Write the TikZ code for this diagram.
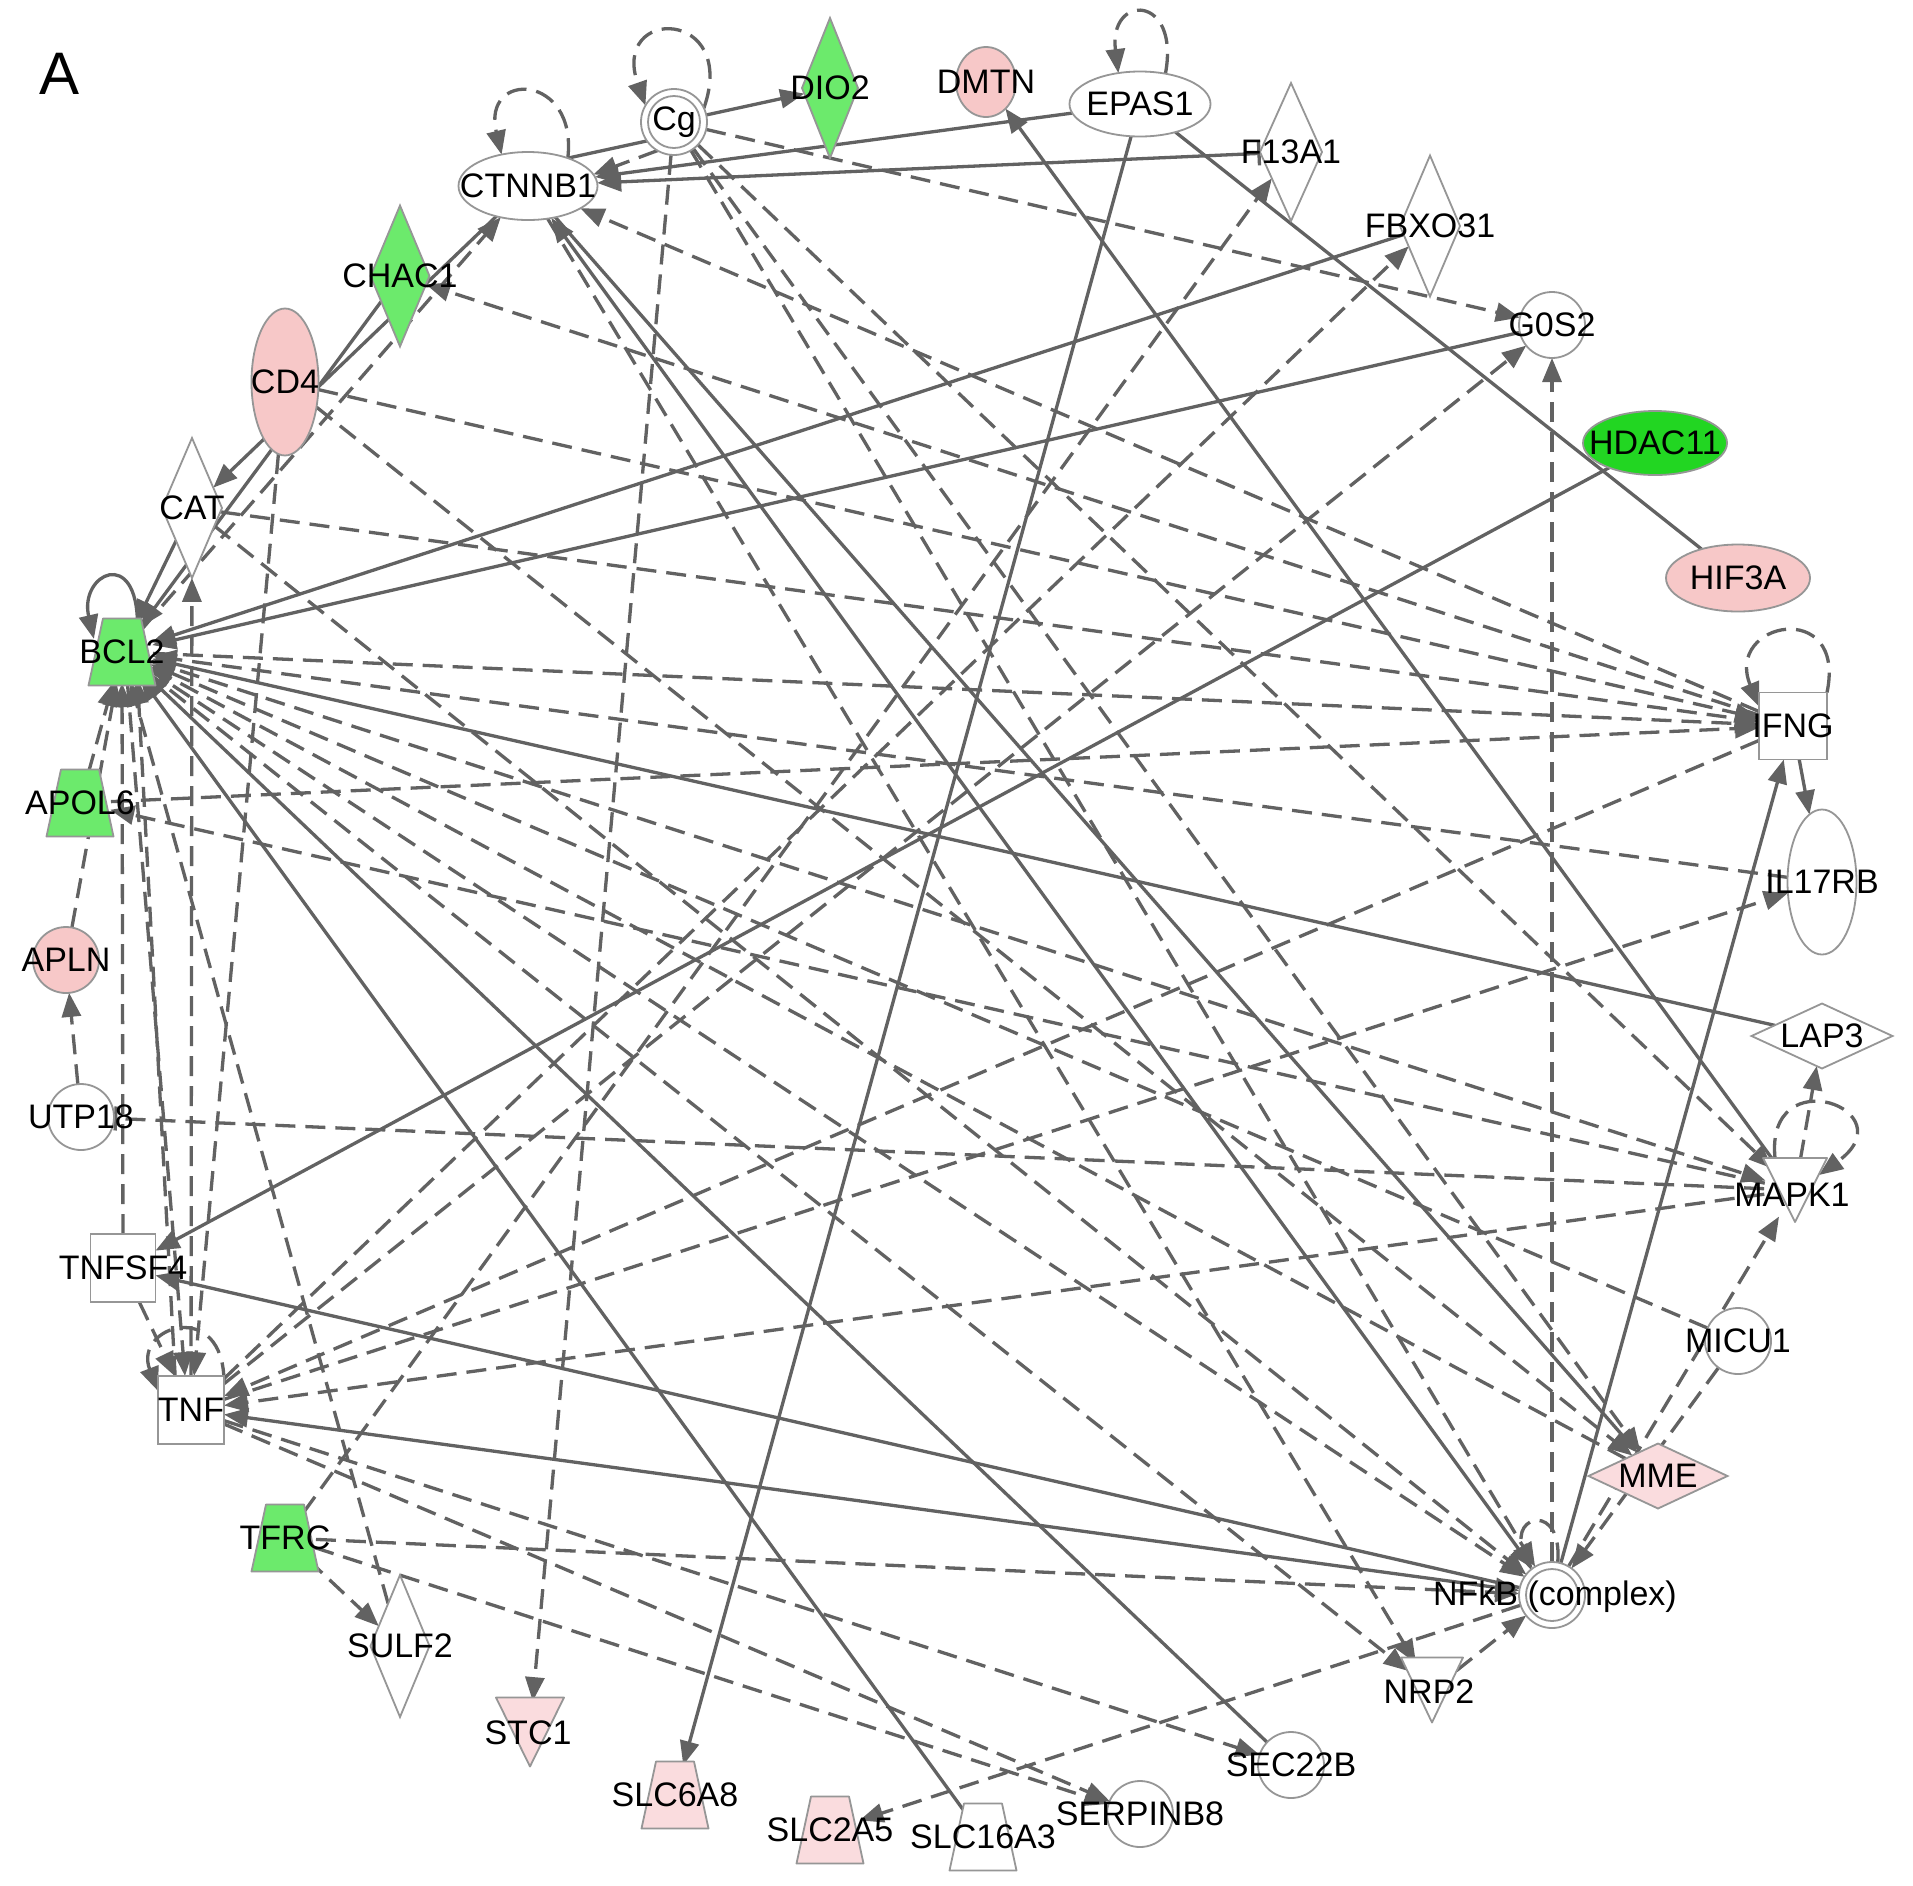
\documentclass[tikz,border=0pt]{standalone}
\usepackage{fontspec}
\setmainfont{Liberation Sans}
\usetikzlibrary{shapes.geometric,arrows.meta,calc}
\pgfdeclarelayer{bg}
\pgfsetlayers{bg,main}
\definecolor{edgec}{RGB}{98,98,98}
\definecolor{nodeb}{RGB}{150,150,150}
\definecolor{gr}{RGB}{108,234,108}
\definecolor{grd}{RGB}{34,214,34}
\definecolor{pk}{RGB}{247,200,200}
\definecolor{pkl}{RGB}{250,220,222}
\tikzset{
  gnode/.style={draw=nodeb, line width=0.9pt, fill=white, inner sep=0pt, outer sep=0pt},
  ell/.style={gnode, ellipse},
  circ/.style={gnode, circle, minimum size=33pt},
  dia/.style={gnode, diamond},
  box/.style={gnode, rectangle},
  proxy/.style={circle, minimum size=31pt, inner sep=0pt, outer sep=0pt},
  tri/.style={draw=nodeb, line width=0.9pt, line join=round},
  lbl/.style={font=\fontsize{17}{20}\selectfont, text=black, inner sep=0pt},
  edge/.style={draw=edgec, line width=1.65pt},
  sa/.style={edge, -{Triangle[length=12pt,width=9.5pt]}},
  sab/.style={edge, {Triangle[length=12pt,width=9.5pt]}-{Triangle[length=12pt,width=9.5pt]}},
  sl/.style={edge},
  ib/.style={edge, {Triangle[length=12pt,width=9.5pt]}-{Bar[width=12pt]}},
  da/.style={edge, dash pattern=on 10pt off 5pt, -{Triangle[length=12pt,width=9.5pt]}},
  dl/.style={edge, dash pattern=on 10pt off 5pt},
  dbar/.style={edge, dash pattern=on 10pt off 5pt, -{Bar[width=12pt]}},
}
\newcommand{\mytrap}[2]{\filldraw[tri, fill=#2] ($(#1)+(-19,-33.5)$) -- ($(#1)+(19,-33.5)$) -- ($(#1)+(33.5,33.5)$) -- ($(#1)+(-33.5,33.5)$) -- cycle;}
\newcommand{\mytri}[4]{\filldraw[tri, fill=#4] ($(#1)+(-#2,-#3)$) -- ($(#1)+(#2,-#3)$) -- ($(#1)+(0,#3)$) -- cycle;}
\begin{document}
\begin{tikzpicture}[x=0.5pt,y=-0.5pt]
\useasboundingbox (0,0) rectangle (1913,1886);
\begin{pgfonlayer}{bg}
\fill[white] (0,0) rectangle (1913,1886);
\end{pgfonlayer}
\node[font=\fontsize{30}{36}\selectfont] (lblA) at (60,74) {A};

% ---------------- nodes ----------------
\node[circ] (Cg) at (674,122) {};
\draw[nodeb, line width=0.9pt] (Cg) circle[radius=13pt];
\node[dia, fill=gr, minimum width=28pt, minimum height=70pt] (DIO2) at (830,88) {};
\node[ell, fill=pk, minimum width=30pt, minimum height=35pt] (DMTN) at (986,82) {};
\node[ell, minimum width=70.5pt, minimum height=32.5pt] (EPAS1) at (1140,104) {};
\node[dia, minimum width=31pt, minimum height=69pt] (F13A1) at (1291,152) {};
\node[dia, minimum width=30pt, minimum height=70.5pt] (FBXO31) at (1430,226) {};
\node[circ] (G0S2) at (1552,325) {};
\node[ell, fill=grd, minimum width=72pt, minimum height=32pt] (HDAC11) at (1655,443) {};
\node[ell, fill=pk, minimum width=72pt, minimum height=33.5pt] (HIF3A) at (1738,578) {};
\node[box, minimum width=34pt, minimum height=33.5pt] (IFNG) at (1793,726) {};
\node[ell, minimum width=34.5pt, minimum height=72.5pt] (IL17RB) at (1822,882) {};
\node[dia, minimum width=70.5pt, minimum height=32.5pt] (LAP3) at (1822,1036) {};
\node[proxy] (MAPK1) at (1795,1190) {};
\mytri{MAPK1}{32}{32}{white}
\node[circ] (MICU1) at (1738,1341) {};
\node[dia, fill=pkl, minimum width=69.5pt, minimum height=32.5pt] (MME) at (1658,1476) {};
\node[circ] (NFkB) at (1552,1595) {};
\draw[nodeb, line width=0.9pt] (NFkB) circle[radius=13pt];
\node[proxy] (NRP2) at (1432,1690) {};
\mytri{NRP2}{31}{32.5}{white}
\node[circ] (SEC22B) at (1291,1765) {};
\node[circ] (SERPINB8) at (1140,1814) {};
\node[proxy] (SLC16A3) at (983,1837) {};
\mytrap{SLC16A3}{white}
\node[proxy] (SLC2A5) at (830,1830) {};
\mytrap{SLC2A5}{pkl}
\node[proxy] (SLC6A8) at (675,1795) {};
\mytrap{SLC6A8}{pkl}
\node[proxy] (STC1) at (530,1732) {};
\mytri{STC1}{34}{34.5}{pkl}
\node[dia, minimum width=29.5pt, minimum height=71pt] (SULF2) at (400,1646) {};
\node[proxy] (TFRC) at (285,1538) {};
\mytrap{TFRC}{gr}
\node[box, minimum width=33pt, minimum height=34pt] (TNF) at (191,1410) {};
\node[box, minimum width=32.5pt, minimum height=34pt] (TNFSF4) at (123,1268) {};
\node[circ] (UTP18) at (81,1117) {};
\node[circ, fill=pk] (APLN) at (66,960) {};
\node[proxy] (APOL6) at (80,803) {};
\mytrap{APOL6}{gr}
\node[proxy] (BCL2) at (122,652) {};
\mytrap{BCL2}{gr}
\node[dia, minimum width=30pt, minimum height=70pt] (CAT) at (192,508) {};
\node[ell, fill=pk, minimum width=33.5pt, minimum height=73.5pt] (CD4) at (285,382) {};
\node[dia, fill=gr, minimum width=29.5pt, minimum height=70.5pt] (CHAC1) at (400,276) {};
\node[ell, minimum width=69.5pt, minimum height=34pt] (CTNNB1) at (528,186) {};

% ---------------- edges ----------------
\begin{pgfonlayer}{bg}
% self loops
\draw[da] (Cg.25) .. controls +(35,-100) and +(-35,-100) .. (Cg.150);
\draw[da] (CTNNB1.35) .. controls +(10,-85) and +(-20,-85) .. (CTNNB1.130);
\draw[da] (EPAS1.50) .. controls +(15,-80) and +(-10,-80) .. (EPAS1.125);
\draw[da] (IFNG.north east) .. controls +(20,-95) and +(-35,-85) .. (IFNG.150);
\draw[da] (1775,1158) .. controls +(-10,-100) and +(90,-65) .. (1819,1175);
\draw[da] (TNF.40) .. controls +(0,-85) and +(-25,-65) .. (TNF.150);
\draw[da] (NFkB.80) .. controls +(5,-60) and +(-20,-55) .. (NFkB.130);
\draw[sa] (BCL2.60) .. controls +(0,-80) and +(-15,-65) .. (BCL2.155);
% top
\draw[sa] (Cg) -- (DIO2);
\draw[sl] (Cg.215) -- (CTNNB1.35);
\draw[da] (Cg.240) -- (CTNNB1.10);
\draw[sa] (EPAS1) -- (CTNNB1);
\draw[ib] (CTNNB1) -- (F13A1);
\draw[sl] (EPAS1) -- (HIF3A);
\draw[sa] (EPAS1) -- (SLC6A8);
\draw[sa] (MAPK1) -- (DMTN);
\draw[da] (Cg) -- (G0S2);
\draw[da] (Cg) -- (STC1);
\draw[da] (Cg) -- (MAPK1);
\draw[da] (Cg) -- (MME);
\draw[da] (Cg) -- (NFkB);
\draw[da] (CTNNB1) -- (NRP2);
\draw[da] (IFNG) -- (CTNNB1);
\draw[da] (IFNG) -- (CHAC1);
\draw[da] (BCL2) -- (CTNNB1);
\draw[sa] (CTNNB1) -- (CAT);
\draw[sa] (CHAC1) -- (BCL2);
\draw[sa] (CTNNB1) -- (MME);
\draw[sab] (CTNNB1) -- (NFkB);
% BCL2
\draw[sa] (FBXO31) -- (BCL2);
\draw[sa] (G0S2) -- (BCL2);
\draw[sa] (LAP3) -- (BCL2);
\draw[da] (BCL2) -- (NFkB);
\draw[da] (BCL2) -- (NRP2);
\draw[sa] (SEC22B) -- (BCL2);
\draw[sa] (SLC16A3) -- (BCL2);
\draw[sa] (CAT) -- (BCL2);
\draw[da] (BCL2) -- (IFNG);
\draw[da] (IL17RB) -- (BCL2);
\draw[da] (BCL2) -- (MAPK1);
\draw[da] (MAPK1) -- (APOL6);
\draw[da] (MICU1) -- (BCL2);
\draw[da] (MME) -- (BCL2);
\draw[da] (BCL2.-80) -- (TNF.100);
\draw[da] (TNF.115) -- (BCL2.-60);
\draw[da] (TNFSF4) -- (BCL2);
\draw[da] (APOL6) -- (BCL2);
\draw[da] (APLN) -- (BCL2);
\draw[da] (SULF2) -- (BCL2);
% CAT, CD4, APOL6, UTP18
\draw[da] (CAT) -- (IFNG);
\draw[da] (CAT) -- (NFkB);
\draw[da] (TNF) -- (CAT);
\draw[da] (CD4) -- (IFNG);
\draw[da] (CD4) -- (MME);
\draw[da] (CD4) -- (TNF);
\draw[da] (APOL6) -- (IFNG);
\draw[da] (UTP18) -- (APLN);
\draw[dbar] (MAPK1) -- (UTP18);
% TNFSF4, TNF
\draw[sa] (NFkB) -- (TNFSF4);
\draw[sa] (HDAC11) -- (TNFSF4);
\draw[da] (TNFSF4) -- (TNF);
\draw[sab] (NFkB) -- (TNF);
\draw[da] (IFNG) -- (TNF);
\draw[da] (MAPK1) -- (TNF);
\draw[da] (TNF) -- (IL17RB);
\draw[da] (TNF) -- (FBXO31);
\draw[da] (TNF) -- (G0S2);
\draw[da] (TNF) -- (SEC22B);
\draw[da] (TNF) -- (SERPINB8);
% TFRC
\draw[da] (TFRC) -- (SULF2);
\draw[da] (TFRC) -- (NFkB);
\draw[da] (TFRC) -- (SERPINB8);
\draw[da] (TFRC) -- (F13A1);
% NFkB and right side
\draw[sa] (NFkB) -- (IFNG);
\draw[da] (NFkB) -- (G0S2);
\draw[da] (NFkB.60) -- (MAPK1);
\draw[da] (MICU1) -- (NFkB);
\draw[da] (NRP2) -- (NFkB);
\draw[da] (NFkB) -- (SLC2A5);
\draw[sa] (IFNG) -- (IL17RB);
\draw[da] (MAPK1) -- (LAP3);
\end{pgfonlayer}

% ---------------- labels ----------------
\node[lbl] at (Cg) {Cg};
\node[lbl] at (DIO2) {DIO2};
\node[lbl] at (DMTN) {DMTN};
\node[lbl] at (EPAS1) {EPAS1};
\node[lbl] at (F13A1) {F13A1};
\node[lbl] at (FBXO31) {FBXO31};
\node[lbl] at (G0S2) {G0S2};
\node[lbl] at (HDAC11) {HDAC11};
\node[lbl] at (HIF3A) {HIF3A};
\node[lbl] at (IFNG) {IFNG};
\node[lbl] at (IL17RB) {IL17RB};
\node[lbl] at (LAP3) {LAP3};
\node[lbl] at (1792,1195) {MAPK1};
\node[lbl] at (MICU1) {MICU1};
\node[lbl] at (MME) {MME};
\node[lbl] at (1555,1597) {NFkB (complex)};
\node[lbl] at (1429,1692) {NRP2};
\node[lbl] at (SEC22B) {SEC22B};
\node[lbl] at (SERPINB8) {SERPINB8};
\node[lbl] at (SLC16A3) {SLC16A3};
\node[lbl] at (SLC2A5) {SLC2A5};
\node[lbl] at (SLC6A8) {SLC6A8};
\node[lbl] at (528,1733) {STC1};
\node[lbl] at (SULF2) {SULF2};
\node[lbl] at (TFRC) {TFRC};
\node[lbl] at (TNF) {TNF};
\node[lbl] at (TNFSF4) {TNFSF4};
\node[lbl] at (UTP18) {UTP18};
\node[lbl] at (APLN) {APLN};
\node[lbl] at (APOL6) {APOL6};
\node[lbl] at (BCL2) {BCL2};
\node[lbl] at (CAT) {CAT};
\node[lbl] at (CD4) {CD4};
\node[lbl] at (CHAC1) {CHAC1};
\node[lbl] at (CTNNB1) {CTNNB1};
\end{tikzpicture}
\end{document}
